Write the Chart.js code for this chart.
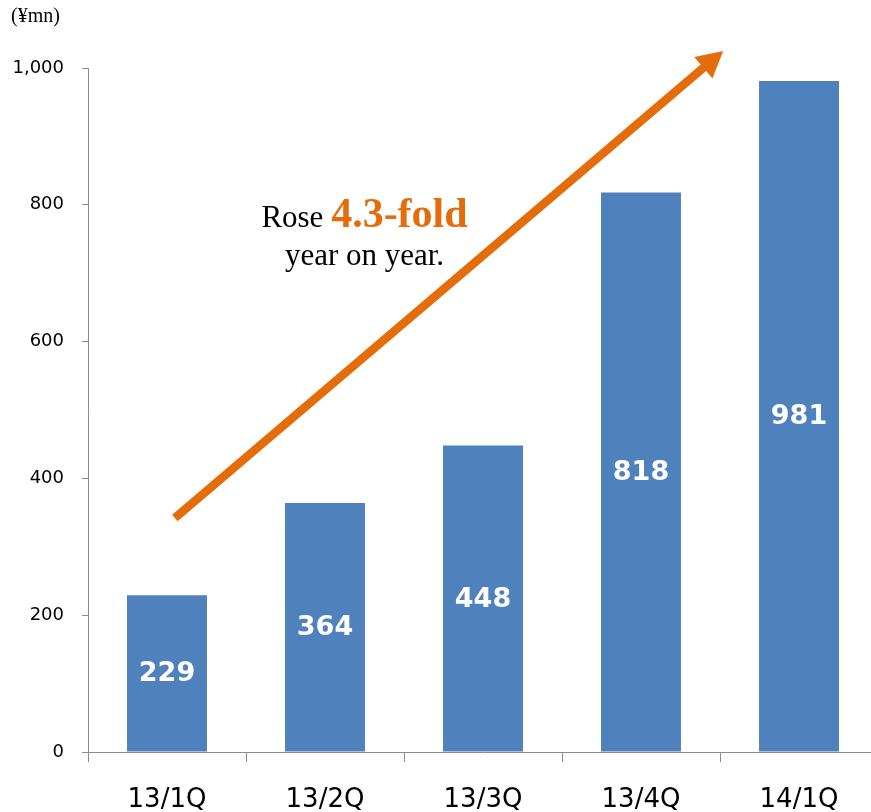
<!DOCTYPE html>
<html>
<head>
<meta charset="utf-8">
<script src="https://cdn.jsdelivr.net/npm/chart.js@4/dist/chart.umd.min.js"></script>
<style>
  body { margin: 0; background: #fff; overflow: hidden; }
  #wrap { width: 880px; height: 812px; }
</style>
</head>
<body>
<div id="wrap"><canvas id="salesChart" width="880" height="812"></canvas></div>
<script>
const quarters = ["13/1Q", "13/2Q", "13/3Q", "13/4Q", "14/1Q"];
const sales = [229, 364, 448, 818, 981];
const yTicks = [0, 200, 400, 600, 800, 1000];
const unitLabel = "(¥mn)";
// arrow ends in [category index, value]
const arrowFrom = [0.05, 342];
const arrowTo = [3.52, 1025];

const axisGray = "#8c8c8c";
const barBlue = "#4F81BD";
const orange = "#E46C0A";

// white numbers in the middle of each bar
const barValues = {
  id: "barValues",
  afterDatasetsDraw(chart) {
    let ctx = chart.ctx;
    let meta = chart.getDatasetMeta(0);
    ctx.save();
    ctx.fillStyle = "#fff";
    ctx.font = "bold 27px 'DejaVu Sans'";
    ctx.textAlign = "center";
    ctx.textBaseline = "middle";
    meta.data.forEach(function (bar, i) {
      ctx.fillText(sales[i], bar.x, (bar.y + bar.base) / 2 + 1);
    });
    ctx.restore();
  },
};

// orange arrow + caption
const growthNote = {
  id: "growthNote",
  afterDatasetsDraw(chart) {
    let ctx = chart.ctx;
    let xs = chart.scales.x;
    let ys = chart.scales.y;
    let x1 = xs.getPixelForValue(arrowFrom[0]);
    let y1 = ys.getPixelForValue(arrowFrom[1]);
    let x2 = xs.getPixelForValue(arrowTo[0]);
    let y2 = ys.getPixelForValue(arrowTo[1]);
    let ang = Math.atan2(y2 - y1, x2 - x1);
    let headLen = 26;
    let headW = 14;
    let bx = x2 - headLen * Math.cos(ang);
    let by = y2 - headLen * Math.sin(ang);

    ctx.save();
    ctx.strokeStyle = orange;
    ctx.fillStyle = orange;
    ctx.lineWidth = 8.5;
    ctx.beginPath();
    ctx.moveTo(x1, y1);
    ctx.lineTo(bx + 2 * Math.cos(ang), by + 2 * Math.sin(ang));
    ctx.stroke();
    ctx.beginPath();
    ctx.moveTo(x2, y2);
    ctx.lineTo(bx + headW * Math.sin(ang), by - headW * Math.cos(ang));
    ctx.lineTo(bx - headW * Math.sin(ang), by + headW * Math.cos(ang));
    ctx.closePath();
    ctx.fill();

    // caption
    let cx = xs.getPixelForValue(1.25);
    let line1 = ys.getPixelForValue(768);
    let line2 = ys.getPixelForValue(712);
    ctx.textBaseline = "alphabetic";
    ctx.font = "31px 'Liberation Serif'";
    let w1 = ctx.measureText("Rose ").width;
    ctx.font = "bold 42px 'Liberation Serif'";
    let w2 = ctx.measureText("4.3-fold").width;
    let start = cx - (w1 + w2) / 2;
    ctx.textAlign = "left";
    ctx.fillStyle = "#000";
    ctx.font = "31px 'Liberation Serif'";
    ctx.fillText("Rose ", start, line1);
    ctx.fillStyle = orange;
    ctx.font = "bold 42px 'Liberation Serif'";
    ctx.fillText("4.3-fold", start + w1, line1);
    ctx.fillStyle = "#000";
    ctx.font = "31px 'Liberation Serif'";
    ctx.textAlign = "center";
    ctx.fillText("year on year.", cx, line2);

    // unit
    ctx.textAlign = "left";
    ctx.textBaseline = "middle";
    ctx.font = "20px 'Liberation Serif'";
    ctx.fillText(unitLabel, 11, 17);
    ctx.restore();
  },
};

let ctx = document.getElementById("salesChart").getContext("2d");
let salesChart = new Chart(ctx, {
  type: "bar",
  data: {
    labels: quarters,
    datasets: [
      {
        data: sales,
        backgroundColor: barBlue,
        borderWidth: 0,
        categoryPercentage: 1,
        barPercentage: 0.506,
      },
    ],
  },
  options: {
    responsive: false,
    animation: false,
    layout: { padding: { top: 68, right: 2, left: 0, bottom: 0 } },
    plugins: {
      legend: { display: false },
      tooltip: { enabled: false },
    },
    scales: {
      x: {
        offset: true,
        grid: {
          offset: true,
          drawOnChartArea: false,
          drawTicks: true,
          tickLength: 10,
          color: axisGray,
        },
        border: { color: axisGray, width: 1 },
        ticks: {
          color: "#000",
          font: { family: "DejaVu Sans", size: 26 },
          padding: 23,
          maxRotation: 0,
        },
        afterFit: function (s) {
          s.height = 60;
        },
      },
      y: {
        min: 0,
        max: 1000,
        afterBuildTicks: function (s) {
          s.ticks = yTicks.map((v) => ({ value: v }));
        },
        grid: {
          drawOnChartArea: false,
          drawTicks: true,
          tickLength: 6,
          color: axisGray,
        },
        border: { color: axisGray, width: 1 },
        ticks: {
          color: "#000",
          font: { family: "DejaVu Sans", size: 18 },
          padding: 18,
        },
        afterFit: function (s) {
          s.width = 88;
        },
      },
    },
  },
  plugins: [barValues, growthNote],
});
</script>
</body>
</html>
